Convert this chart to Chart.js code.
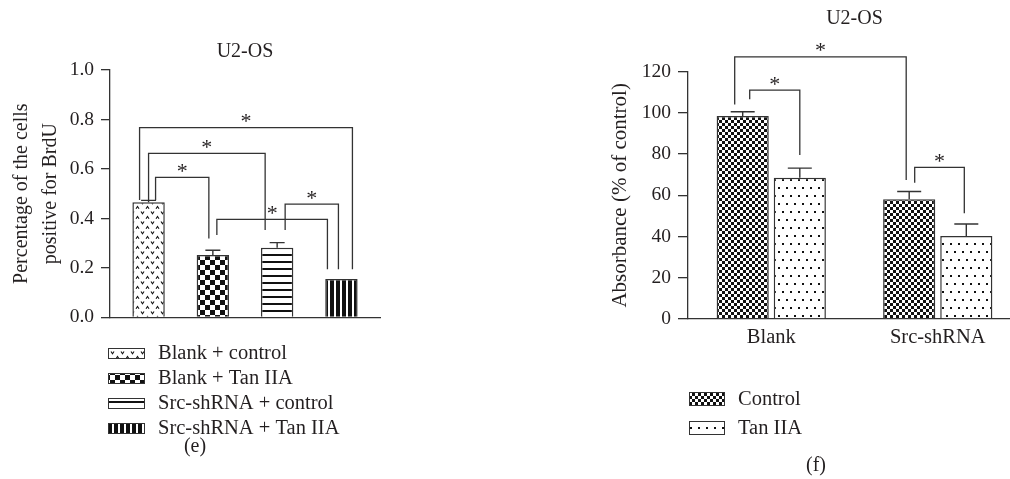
<!DOCTYPE html>
<html>
<head>
<meta charset="utf-8">
<script src="https://cdn.jsdelivr.net/npm/chart.js@4.4.1/dist/chart.umd.min.js"></script>
<style>
  html, body { margin: 0; padding: 0; background: #fff; overflow: hidden; width: 1010px; height: 479px; }
  #wrapE { position: absolute; left: 0; top: 0; width: 500px; height: 479px; }
  #wrapF { position: absolute; left: 500px; top: 0; width: 530px; height: 479px; }
</style>
</head>
<body>
<div id="wrapE"><canvas id="chartE"></canvas></div>
<div id="wrapF"><canvas id="chartF"></canvas></div>
<script>
// ---- Panel (e): fraction of BrdU-positive cells ----
const brduGroups = ['Blank + control', 'Blank + Tan IIA', 'Src-shRNA + control', 'Src-shRNA + Tan IIA'];
const brduMeans = [0.465, 0.252, 0.281, 0.155];
const brduErrors = [0.008, 0.019, 0.021, 0];
const brduTicks = [0.0, 0.2, 0.4, 0.6, 0.8, 1.0];

// ---- Panel (f): absorbance, % of control ----
const absCategories = ['Blank', 'Src-shRNA'];
const absSeries = ['Control', 'Tan IIA'];
const absControl = [98.5, 58.1];
const absTan = [68.5, 40.3];
const absControlErr = [2.1, 3.8];
const absTanErr = [4.7, 5.8];
const absTicks = [0, 20, 40, 60, 80, 100, 120];

const LINE = '#333333';
const TEXT = '#231f20';
const SERIF = '"Liberation Serif", "Times New Roman", serif';

// ---- fill patterns ----
function makePattern(w, h, paint) {
  const c = document.createElement('canvas');
  c.width = w; c.height = h;
  const g = c.getContext('2d');
  paint(g, w, h);
  return g.createPattern(c, 'repeat');
}
const patChevron = makePattern(10, 10, (g) => {
  g.fillStyle = '#fff'; g.fillRect(0, 0, 10, 10);
  g.strokeStyle = '#111'; g.lineWidth = 1.1;
  g.beginPath(); g.moveTo(1, 1.5); g.lineTo(2.5, 3.8); g.lineTo(4, 1.5); g.stroke();
  g.beginPath(); g.moveTo(6, 8.8); g.lineTo(7.5, 6.5); g.lineTo(9, 8.8); g.stroke();
});
const patCheckerLarge = makePattern(10, 10, (g) => {
  g.fillStyle = '#fff'; g.fillRect(0, 0, 10, 10);
  g.fillStyle = '#111'; g.fillRect(0, 0, 5, 5); g.fillRect(5, 5, 5, 5);
});
const patHLines = makePattern(7, 7, (g) => {
  g.fillStyle = '#fff'; g.fillRect(0, 0, 7, 7);
  g.fillStyle = '#111'; g.fillRect(0, 2, 7, 2);
});
const patVStripes = makePattern(6, 6, (g) => {
  g.fillStyle = '#fff'; g.fillRect(0, 0, 6, 6);
  g.fillStyle = '#111'; g.fillRect(0, 0, 4, 6);
});
const patCheckerSmall = makePattern(6, 6, (g) => {
  g.fillStyle = '#111'; g.fillRect(0, 0, 6, 6);
  g.fillStyle = '#fff'; g.fillRect(0, 0, 3, 3); g.fillRect(3, 3, 3, 3);
});
const patDots = makePattern(8, 16, (g) => {
  g.fillStyle = '#fff'; g.fillRect(0, 0, 8, 16);
  g.fillStyle = '#111'; g.fillRect(2, 3, 2, 2); g.fillRect(6, 11, 2, 2);
});

// ---- shared drawing helpers ----
function errorBarPlugin(errorSets, cap) {
  return {
    id: 'errorBars',
    afterDatasetsDraw(chart) {
      const { ctx } = chart;
      const yScale = chart.scales.y;
      ctx.save();
      ctx.strokeStyle = LINE; ctx.lineWidth = 1.4;
      errorSets.forEach((errs, d) => {
        const meta = chart.getDatasetMeta(d);
        const raw = chart.data.datasets[d].data;
        meta.data.forEach((bar, i) => {
          const e = errs[i];
          if (!e) return;
          const v = typeof raw[i] === 'object' ? raw[i].y : raw[i];
          const top = yScale.getPixelForValue(v + e);
          ctx.beginPath();
          ctx.moveTo(bar.x, bar.y); ctx.lineTo(bar.x, top);
          ctx.moveTo(bar.x - cap / 2, top); ctx.lineTo(bar.x + cap / 2, top);
          ctx.stroke();
        });
      });
      ctx.restore();
    }
  };
}

// significance brackets: a/b = [dataset, index], level/endA/endB in axis units, dx in pixels
function bracketPlugin(brackets) {
  return {
    id: 'sigBrackets',
    afterDatasetsDraw(chart) {
      const { ctx } = chart;
      const yScale = chart.scales.y;
      ctx.save();
      ctx.strokeStyle = LINE; ctx.lineWidth = 1.3;
      ctx.fillStyle = TEXT;
      ctx.font = '22px ' + SERIF;
      ctx.textAlign = 'center'; ctx.textBaseline = 'alphabetic';
      brackets.forEach((b) => {
        const xa = chart.getDatasetMeta(b.a[0]).data[b.a[1]].x + b.dxA;
        const xb = chart.getDatasetMeta(b.b[0]).data[b.b[1]].x + b.dxB;
        const yl = yScale.getPixelForValue(b.level);
        ctx.beginPath();
        ctx.moveTo(xa, yScale.getPixelForValue(b.endA));
        ctx.lineTo(xa, yl);
        ctx.lineTo(xb, yl);
        ctx.lineTo(xb, yScale.getPixelForValue(b.endB));
        ctx.stroke();
        ctx.fillText('*', (xa + xb) / 2, yl + 0.5);
      });
      ctx.restore();
    }
  };
}

function decorPlugin(cfg) {
  return {
    id: 'decor',
    afterDraw(chart) {
      const { ctx, chartArea } = chart;
      ctx.save();
      ctx.fillStyle = TEXT;
      ctx.textBaseline = 'middle';
      // panel title
      ctx.font = '20px ' + SERIF;
      ctx.textAlign = 'center';
      ctx.fillText(cfg.title, (chartArea.left + chartArea.right) / 2, cfg.titleY);
      // legend
      const L = cfg.legend;
      L.items.forEach((it, k) => {
        const y = L.top + k * L.step;
        ctx.fillStyle = it.fill;
        ctx.fillRect(L.x, y, L.w, L.h);
        ctx.strokeStyle = LINE; ctx.lineWidth = 1;
        ctx.strokeRect(L.x + 0.5, y + 0.5, L.w - 1, L.h - 1);
        ctx.fillStyle = TEXT;
        ctx.font = '20.5px ' + SERIF;
        ctx.textAlign = 'left';
        ctx.fillText(it.label, L.textX, y + L.h / 2 + 0.5);
      });
      // panel letter
      ctx.textAlign = 'center';
      ctx.font = '20px ' + SERIF;
      ctx.fillText(cfg.panel, cfg.panelX, cfg.panelY);
      ctx.restore();
    }
  };
}

const tickFont = { family: SERIF, size: 19.5 };

// ---- chart (e) ----
const brduFills = [patChevron, patCheckerLarge, patHLines, patVStripes];
new Chart(document.getElementById('chartE'), {
  type: 'bar',
  data: {
    datasets: [{
      label: 'BrdU',
      data: brduMeans.map((v, i) => ({ x: i, y: v })),
      backgroundColor: brduFills,
      borderColor: LINE,
      borderWidth: 1.5,
      barPercentage: 0.504,
      categoryPercentage: 1
    }]
  },
  options: {
    responsive: true,
    maintainAspectRatio: false,
    animation: false,
    events: [],
    layout: { padding: { left: 0, right: 120, top: 70, bottom: 141.7 } },
    plugins: { legend: { display: false }, tooltip: { enabled: false }, title: { display: false } },
    scales: {
      x: {
        type: 'linear', min: -0.6, max: 3.6, offset: false,
        afterBuildTicks: (s) => { s.ticks = brduGroups.map((_, i) => ({ value: i })); },
        grid: { display: false, drawTicks: false },
        ticks: { display: false },
        border: { display: true, color: LINE, width: 1.3 },
        afterFit: (s) => { s.height = 20; }
      },
      y: {
        min: 0, max: 1,
        afterBuildTicks: (s) => { s.ticks = brduTicks.map((v) => ({ value: v })); },
        ticks: { callback: (v) => Number(v).toFixed(1), font: tickFont, color: TEXT, padding: 7 },
        grid: { drawOnChartArea: false, drawTicks: true, tickLength: 9, color: LINE, lineWidth: 1.3 },
        border: { display: true, color: LINE, width: 1.3 },
        title: {
          display: true,
          text: ['Percentage of the cells', 'positive for BrdU'],
          font: { family: SERIF, size: 20, lineHeight: 1.45 },
          color: TEXT,
          padding: { top: 7, bottom: 0 }
        },
        afterFit: (s) => { s.width = 110; }
      }
    }
  },
  plugins: [
    errorBarPlugin([brduErrors], 15),
    bracketPlugin([
      { a: [0, 0], b: [0, 3], level: 0.767, endA: 0.474, endB: 0.194, dxA: -9, dxB: 11 },
      { a: [0, 0], b: [0, 2], level: 0.663, endA: 0.474, endB: 0.353, dxA: 0, dxB: -12 },
      { a: [0, 0], b: [0, 1], level: 0.566, endA: 0.474, endB: 0.319, dxA: 7, dxB: -4 },
      { a: [0, 1], b: [0, 3], level: 0.396, endA: 0.333, endB: 0.194, dxA: 4, dxB: -14 },
      { a: [0, 2], b: [0, 3], level: 0.458, endA: 0.353, endB: 0.194, dxA: 8, dxB: -3 }
    ]),
    decorPlugin({
      title: 'U2-OS', titleY: 52,
      legend: {
        x: 108, top: 348, step: 25, w: 37, h: 11, textX: 158,
        items: brduGroups.map((g, i) => ({ label: g, fill: brduFills[i] }))
      },
      panel: '(e)', panelX: 195, panelY: 447
    })
  ]
});

// ---- chart (f) ----
const absFills = [patCheckerSmall, patDots];
new Chart(document.getElementById('chartF'), {
  type: 'bar',
  data: {
    labels: absCategories,
    datasets: [
      { label: absSeries[0], data: absControl, backgroundColor: absFills[0], borderColor: LINE, borderWidth: 1.5,
        categoryPercentage: 0.686, barPercentage: 0.913 },
      { label: absSeries[1], data: absTan, backgroundColor: absFills[1], borderColor: LINE, borderWidth: 1.5,
        categoryPercentage: 0.686, barPercentage: 0.913 }
    ]
  },
  options: {
    responsive: true,
    maintainAspectRatio: false,
    animation: false,
    events: [],
    layout: { padding: { left: 0, right: 9, top: 71.7, bottom: 130 } },
    plugins: { legend: { display: false }, tooltip: { enabled: false }, title: { display: false } },
    scales: {
      x: {
        offset: true,
        grid: { display: false, drawTicks: false },
        ticks: { font: { family: SERIF, size: 20.5 }, color: TEXT, padding: 6 },
        border: { display: true, color: LINE, width: 1.3 },
        afterFit: (s) => { s.height = 30; }
      },
      y: {
        min: 0, max: 120,
        afterBuildTicks: (s) => { s.ticks = absTicks.map((v) => ({ value: v })); },
        ticks: { font: tickFont, color: TEXT, padding: 7 },
        grid: { drawOnChartArea: false, drawTicks: true, tickLength: 10, color: LINE, lineWidth: 1.3 },
        border: { display: true, color: LINE, width: 1.3 },
        title: {
          display: true,
          text: 'Absorbance (% of control)',
          font: { family: SERIF, size: 21 },
          color: TEXT,
          padding: { top: 108, bottom: 0 }
        },
        afterFit: (s) => { s.width = 188; }
      }
    }
  },
  plugins: [
    errorBarPlugin([absControlErr, absTanErr], 24),
    bracketPlugin([
      { a: [0, 0], b: [0, 1], level: 127.2, endA: 104.1, endB: 67.4, dxA: -8, dxB: -3 },
      { a: [0, 0], b: [1, 0], level: 111.1, endA: 106.6, endB: 79.6, dxA: 7, dxB: 0 },
      { a: [0, 1], b: [1, 1], level: 73.6, endA: 66.1, endB: 51.3, dxA: 5.5, dxB: -2 }
    ]),
    decorPlugin({
      title: 'U2-OS', titleY: 19,
      legend: {
        x: 189, top: 392, step: 29, w: 36, h: 14, textX: 238,
        items: absSeries.map((s, i) => ({ label: s, fill: absFills[i] }))
      },
      panel: '(f)', panelX: 316, panelY: 466
    })
  ]
});
</script>
</body>
</html>
